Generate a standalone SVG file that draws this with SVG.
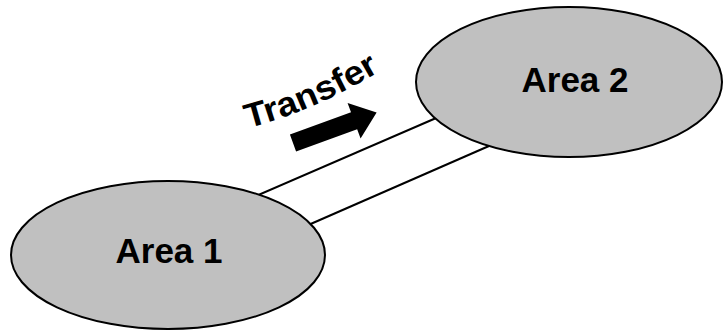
<svg xmlns="http://www.w3.org/2000/svg" width="724" height="332" viewBox="0 0 724 332">
<style>
.node{fill:#c0c0c0;stroke:#000;stroke-width:2}
.lbl{font-family:"Liberation Sans",Arial,sans-serif;font-weight:bold;fill:#000}
.conn{stroke:#000;stroke-width:2;fill:none}
</style>
<defs>
<path id="arc" d="M 248 128 Q 318 110 392 64"/>
</defs>
<rect width="724" height="332" fill="#fff"/>
<g id="connectors">
<line class="conn" x1="240" y1="203" x2="450" y2="112"/>
<line class="conn" x1="290" y1="233" x2="505" y2="139"/>
</g>
<g id="area1">
<ellipse class="node" cx="168" cy="255" rx="157" ry="74"/>
<text class="lbl" x="169" y="263" font-size="35" text-anchor="middle">Area 1</text>
</g>
<g id="area2">
<ellipse class="node" cx="569" cy="82" rx="153" ry="75"/>
<text class="lbl" x="575" y="92" font-size="35" text-anchor="middle">Area 2</text>
</g>
<g id="transfer">
<text class="lbl" font-size="34"><textPath href="#arc" textLength="144" lengthAdjust="spacingAndGlyphs">Transfer</textPath></text>
<polygon fill="#000" transform="translate(293,143) rotate(-20)" points="0,-9 65,-9 65,-19 89,0 65,19 65,9 0,9"/>
</g>
</svg>
